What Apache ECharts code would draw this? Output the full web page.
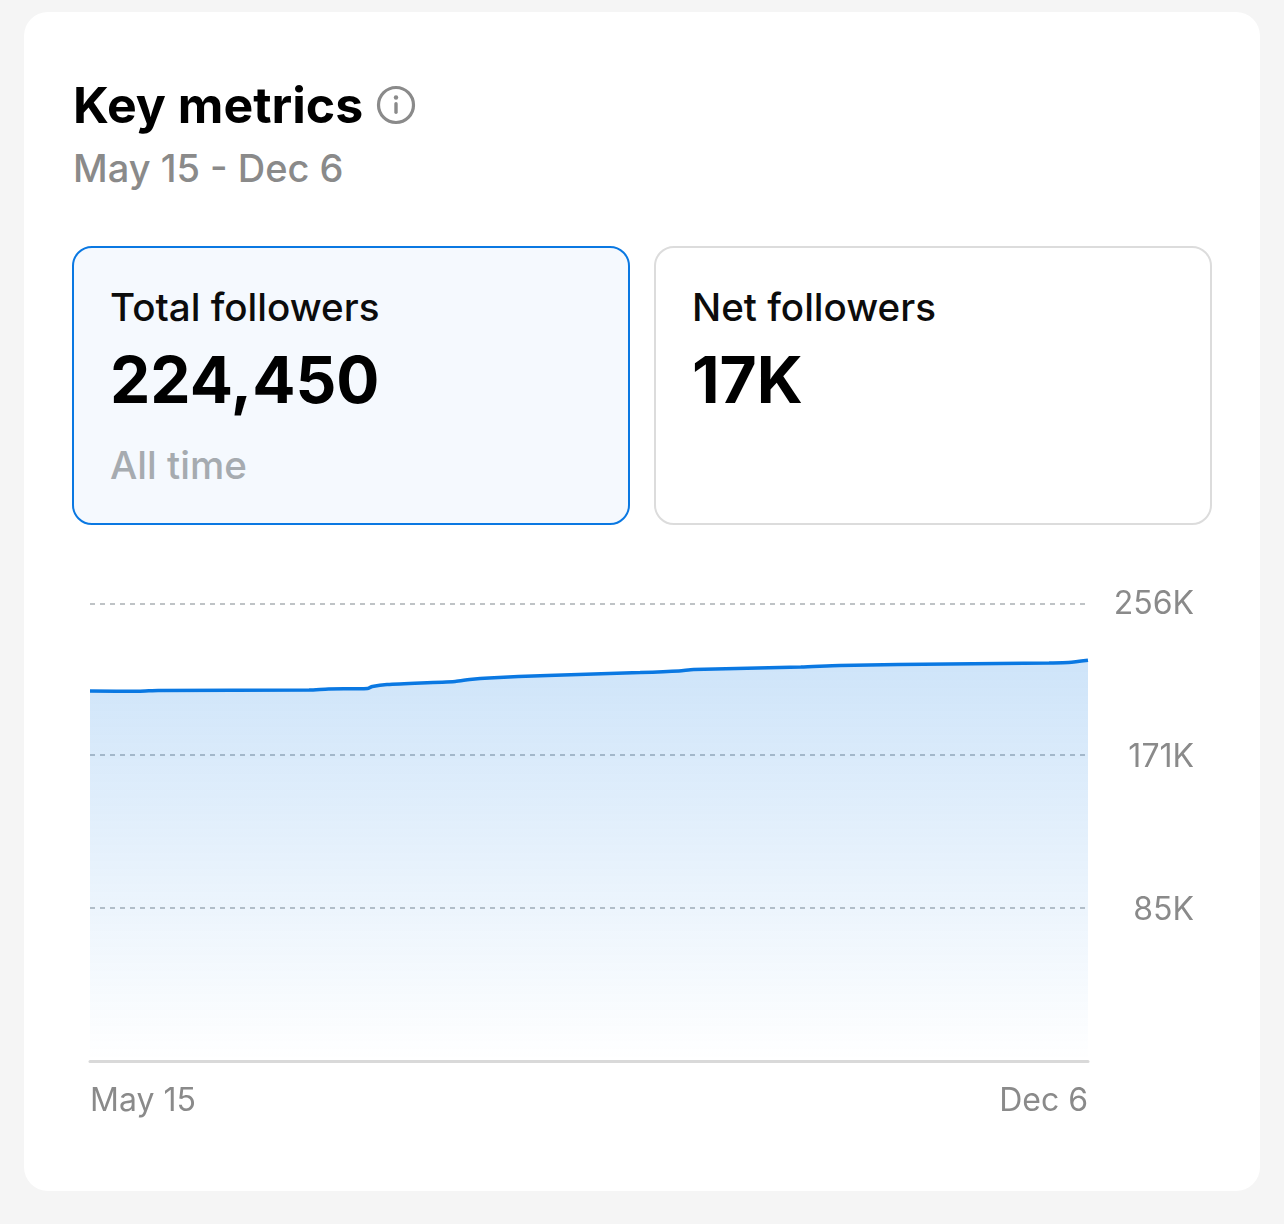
<!DOCTYPE html>
<html><head><meta charset="utf-8">
<script src="https://cdn.jsdelivr.net/npm/echarts@6/dist/echarts.min.js"></script>
<style>
html,body{margin:0;padding:0;width:1284px;height:1224px;background:#f5f5f5;overflow:hidden;font-family:Inter,"Noto Sans",sans-serif}
.abs{position:absolute;white-space:nowrap}
#cardbg{left:24px;top:12px;width:1236px;height:1179px;background:#fff;border-radius:24px}
.card{position:absolute;top:246px;width:554px;height:275px;border-radius:20px;border:2px solid #dcdcdc}
#c1{left:72px;background:#f5f9fe;border-color:#0a78e2}
#c2{left:654px;background:#fff}
.lab{font-size:38.6px;font-weight:500;color:#0c0c0c;line-height:44px;top:285px}
.num{font-size:64px;font-weight:700;color:#000;line-height:76px;top:342px}
#chart{position:absolute;left:0;top:0;width:1284px;height:1224px}
</style></head><body>
<div class="abs" id="cardbg"></div>
<div class="abs" style="left:73px;top:75px;font-size:50px;font-weight:700;line-height:60px;color:#000">Key metrics</div>
<svg class="abs" style="left:376px;top:85px" width="40" height="40" viewBox="0 0 40 40">
<circle cx="20" cy="20" r="17.5" fill="none" stroke="#8a8a8a" stroke-width="3.2"/>
<circle cx="20" cy="12.5" r="2.2" fill="#8a8a8a"/><rect x="18.3" y="17" width="3.4" height="12" rx="1.7" fill="#8a8a8a"/>
</svg>
<div class="abs" style="left:73px;top:146px;font-size:38px;font-weight:500;line-height:44px;color:#8a8a8a">May 15 - Dec 6</div>
<div class="card" id="c1"></div><div class="card" id="c2"></div>
<div class="abs lab" style="left:110px">Total followers</div>
<div class="abs num" style="left:110px">224,450</div>
<div class="abs" style="left:110px;top:443px;font-size:38.6px;font-weight:500;line-height:44px;color:#a6abb0">All time</div>
<div class="abs lab" style="left:692px">Net followers</div>
<div class="abs num" style="left:692px">17K</div>
<div id="chart"></div>
<script>
const dates=['2023-05-15','2023-05-25','2023-05-29','2023-06-29','2023-07-03','2023-07-11','2023-07-12','2023-07-15','2023-07-29','2023-08-01','2023-08-05','2023-08-17','2023-09-05','2023-09-13','2023-09-16','2023-10-08','2023-10-16','2023-10-28','2023-11-28','2023-12-02','2023-12-06'];
const followersK=[207.3,207.1,207.6,207.8,208.4,208.7,209.8,210.9,212.6,213.7,214.6,216,217.6,218.5,219.3,220.7,221.6,222.1,223,223.2,224.45];
const yTicksK=[0,85.7,171.4,256];
const yTickLabels=['','85K','171K','256K'];
const xTicks=['2023-05-15','2023-12-06'];
const xTickLabels=['May 15','Dec 6'];
const t=s=>{const[a,b,c]=s.split('-').map(Number);return new Date(a,b-1,c).getTime()};
const labelStyle={color:'#8a8a8a',fontFamily:'Inter',fontSize:33};
const chart=echarts.init(document.getElementById('chart'),null,{renderer:'canvas'});
chart.setOption({
 animation:false,backgroundColor:'transparent',
 grid:{left:90,right:196,top:604,bottom:163,containLabel:false},
 xAxis:{type:'value',min:t(dates[0]),max:t(dates[dates.length-1]),
  axisLine:{show:true,lineStyle:{color:'#d9d9d9',width:3}},axisTick:{show:false},splitLine:{show:false},
  axisLabel:{customValues:xTicks.map(t),alignMinLabel:'left',alignMaxLabel:'right',showMinLabel:true,showMaxLabel:true,
   color:'#8a8a8a',fontFamily:'Inter',fontSize:32,margin:24,
   formatter:v=>{const i=xTicks.map(t).indexOf(+v);return i<0?'':xTickLabels[i]}}},
 yAxis:{type:'value',position:'right',min:0,max:256,
  axisLine:{show:false},axisTick:{show:false,customValues:yTicksK},
  splitLine:{show:true,lineStyle:{color:'#b0b5b8',type:[5,5],width:1.6}},
  axisLabel:{customValues:yTicksK,inside:false,margin:106,align:'right',verticalAlignMaxLabel:'middle',
   color:'#8a8a8a',fontFamily:'Inter',fontSize:32,
   rich:{low:{color:'#8a8a8a',fontFamily:'Inter',fontSize:32,padding:[4,0,0,0]}},
   formatter:v=>{const i=yTicksK.indexOf(+v);if(i<0)return '';return i===yTicksK.length-1?yTickLabels[i]:'{low|'+yTickLabels[i]+'}'}}},
 series:[{type:'line',data:dates.map((d,i)=>[t(d),followersK[i]]),smooth:0.25,showSymbol:false,
  lineStyle:{color:'#0a78e2',width:3.5},
  areaStyle:{opacity:1,color:{type:'linear',x:0,y:0,x2:0,y2:1,colorStops:[{offset:0,color:'rgba(10,120,226,0.2)'},{offset:1,color:'rgba(10,120,226,0)'}]}}}]
});
</script></body></html>
